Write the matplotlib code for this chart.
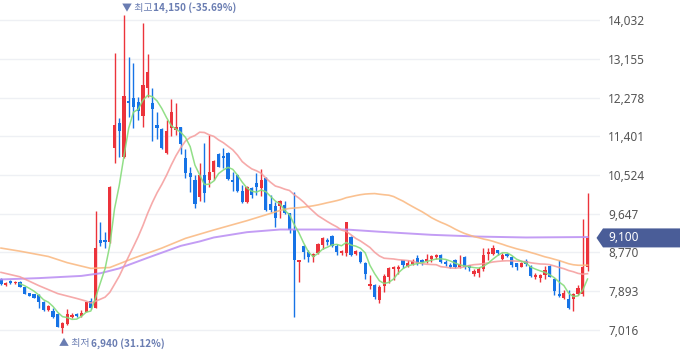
import numpy as np
import pandas as pd
import matplotlib
matplotlib.use("Agg")
import matplotlib.pyplot as plt
from matplotlib.patches import Polygon
from matplotlib.transforms import IdentityTransform

# ---------------- data ----------------
opens = [8160, 8040, 8130, 8090, 8110, 7980, 7850, 7820, 7810, 7660,
         7470, 7450, 7370, 7050, 7150, 7300, 7370, 7330, 7430, 7680,
         7520, 9050, 9050, 9010, 11130, 11690, 10940, 12210, 12260, 12180,
         11860, 12490, 12150, 11660, 11570, 11030, 11580, 11540, 11600, 10900,
         10560, 10410, 10020, 10520, 10410, 10600, 11010, 10960, 11030, 10410,
         10520, 10170, 9920, 10220, 10340, 10220, 10450, 9870, 9820, 9820,
         9850, 9660, 9270, 8560, 8920, 8790, 8670, 8760, 8950, 9050,
         9140, 8920, 8750, 8760, 9110, 8740, 8790, 8540, 8010, 8030,
         7690, 8010, 8220, 8390, 8390, 8590, 8460, 8510, 8640, 8600,
         8580, 8620, 8660, 8710, 8560, 8490, 8600, 8440, 8660, 8490,
         8280, 8310, 8390, 8740, 8740, 8830, 8620, 8740, 8670, 8530,
         8450, 8580, 8460, 8220, 8190, 8270, 8460, 8160, 7840, 7730,
         7720, 7710, 7830, 7830, 8440]
highs = [8200, 8110, 8150, 8130, 8120, 8000, 7860, 7830, 7820, 7670,
         7580, 7510, 7390, 7200, 7480, 7390, 7390, 7470, 7650, 7730,
         9700, 9450, 9240, 10270, 13290, 11810, 14150, 13200, 13050, 12280,
         13960, 13260, 12490, 11960, 11580, 11770, 12240, 12150, 11620, 11110,
         10710, 10520, 10800, 11240, 11430, 10860, 11030, 11130, 11050, 10600,
         10550, 10290, 10270, 10260, 10560, 10650, 10470, 10070, 9920, 9960,
         9940, 9670, 10150, 8610, 8940, 8830, 8760, 8990, 9130, 9090,
         9160, 8960, 8830, 9470, 9140, 8830, 8810, 8560, 8250, 8060,
         8030, 8280, 8440, 8470, 8490, 8600, 8600, 8620, 8710, 8620,
         8740, 8710, 8740, 8740, 8600, 8540, 8620, 8710, 8680, 8490,
         8390, 8440, 8870, 8870, 8940, 8830, 8760, 8760, 8690, 8540,
         8560, 8620, 8490, 8300, 8280, 8460, 8490, 8190, 8600, 7920,
         7920, 7850, 8030, 9520, 10110]
lows = [8030, 8010, 8060, 8050, 7980, 7820, 7780, 7730, 7510, 7450,
        7450, 7280, 7080, 6940, 7140, 7280, 7310, 7310, 7420, 7490,
        7510, 8920, 8870, 8980, 10800, 10940, 10900, 11840, 11580, 11760,
        11600, 12280, 11300, 11350, 11110, 11010, 11410, 11430, 11010, 10450,
        10140, 9770, 9940, 9920, 10260, 10410, 10700, 10690, 10410, 10170,
        10150, 9880, 9900, 10000, 10070, 10050, 9720, 9690, 9340, 9540,
        9640, 9220, 7300, 8110, 8620, 8550, 8550, 8740, 8840, 8940,
        8900, 8710, 8710, 8690, 8690, 8710, 8530, 8170, 7940, 7720,
        7620, 7880, 8090, 8150, 8280, 8410, 8450, 8490, 8490, 8490,
        8530, 8560, 8620, 8540, 8460, 8410, 8410, 8410, 8390, 8340,
        8240, 8220, 8360, 8600, 8710, 8710, 8600, 8660, 8440, 8370,
        8440, 8460, 8210, 8170, 8110, 8170, 8210, 7800, 7770, 7720,
        7500, 7450, 7800, 7780, 8340]
closes = [8060, 8090, 8070, 8100, 8000, 7830, 7790, 7750, 7660, 7470,
          7560, 7300, 7090, 7170, 7370, 7350, 7330, 7400, 7640, 7510,
          8870, 8980, 9010, 10260, 11660, 11530, 12310, 12160, 12070, 11980,
          12560, 12860, 12020, 11580, 11130, 11520, 11960, 11620, 11220, 10560,
          10470, 9870, 10520, 10120, 10600, 10830, 10710, 10920, 10430, 10370,
          10170, 9920, 10260, 10070, 10260, 10410, 9730, 9730, 9540, 9940,
          9660, 9270, 8590, 8600, 8790, 8660, 8730, 8960, 9090, 9010,
          8920, 8790, 8800, 9470, 8710, 8800, 8550, 8280, 8060, 7760,
          8000, 8240, 8410, 8440, 8450, 8490, 8530, 8580, 8540, 8560,
          8620, 8680, 8710, 8560, 8500, 8440, 8440, 8510, 8440, 8410,
          8340, 8390, 8710, 8790, 8870, 8750, 8710, 8690, 8490, 8450,
          8530, 8500, 8230, 8260, 8250, 8370, 8220, 7890, 7780, 7850,
          7510, 7840, 7960, 8440, 9100]

# moving-average values before enough in-window data exists
ma20_head_idx = [0, 4, 8, 12, 16, 18]
ma20_head_val = [8320, 8220, 8020, 7840, 7730, 7670]
ma60_head_idx = [0, 4, 10, 14, 19, 23, 28, 34, 39, 45, 52]
ma60_head_val = [8870, 8800, 8680, 8540, 8410, 8430, 8640, 8870, 9090, 9280, 9490]
ma120_idx = [0, 8, 17, 21, 25, 31, 38, 42, 45, 52, 59, 66, 73, 80, 91, 101, 111, 124]
ma120_val = [8160, 8190, 8240, 8300, 8410, 8650, 8920, 9020, 9110, 9230,
             9290, 9290, 9290, 9240, 9170, 9130, 9110, 9120]

y_ticks = [7016, 7893, 8770, 9647, 10524, 11401, 12278, 13155, 14032]

# ---------------- styling ----------------
UP = "#ec333b"
DOWN = "#1673e6"
FONT = ["Noto Sans CJK KR", "DejaVu Sans"]

fig = plt.figure(figsize=(6.8, 3.58), dpi=100)
ax = fig.add_axes([0, 0, 600 / 680, 1])
ax.set_xlim(-0.21, 126.64)
ax.set_ylim(6382, 14485)

n = len(closes)
x = np.arange(n)
o = np.array(opens, float)
h = np.array(highs, float)
l = np.array(lows, float)
c = np.array(closes, float)
up = c >= o
colors = np.where(up, UP, DOWN)

ax.vlines(x, l, h, colors=colors, lw=1.0, zorder=2)
bottom = np.minimum(o, c)
height = np.maximum(np.abs(c - o), 22)
ax.bar(x, height, bottom=bottom, width=0.68, color=colors, lw=0, zorder=2)

cs = pd.Series(c)
ma5 = cs.rolling(5).mean()
ma20 = cs.rolling(20).mean()
ma60 = cs.rolling(60).mean()

ax.plot(ma120_idx, ma120_val, color="#b98cf3", lw=1.4, alpha=0.85, zorder=3)
ax.plot(ma60_head_idx + list(x[59:]), ma60_head_val + list(ma60[59:]),
        color="#fab77e", lw=1.2, alpha=0.85, zorder=3)
ax.plot(ma20_head_idx + list(x[19:]), ma20_head_val + list(ma20[19:]),
        color="#f59b9b", lw=1.2, alpha=0.85, zorder=3)
ax.plot(x[4:], ma5[4:], color="#86dc7b", lw=1.1, alpha=0.9, zorder=3)

# axes
ax.set_yticks(y_ticks)
ax.set_yticklabels([f"{v:,}" for v in y_ticks])
ax.yaxis.tick_right()
ax.tick_params(axis="y", length=0, pad=6, labelsize=8.5, labelcolor="#555555")
for lab in ax.get_yticklabels():
    lab.set_family(["Noto Sans", "DejaVu Sans"])
ax.set_xticks([])
for s in ax.spines.values():
    s.set_visible(False)
ax.grid(axis="y", color="#eef0f4", lw=1.0)
ax.set_axisbelow(True)

# high / low annotations
last = closes[-1]
imax = int(np.argmax(h)); vmax = highs[imax]
imin = int(np.argmin(l)); vmin = lows[imin]
ACol = "#6a7db2"
AFS = 7.2
t1 = ax.annotate("▼ 최고", xy=(imax, vmax), xytext=(-2, 7), textcoords="offset pixels",
                 ha="left", va="center", fontsize=AFS, color=ACol, family=FONT)
ax.annotate(f"{vmax:,} ({(last - vmax) / vmax * 100:.2f}%)", xy=(1, 0.5), xycoords=t1,
            xytext=(1, 0), textcoords="offset pixels", ha="left", va="center",
            fontsize=AFS, color=ACol, fontweight="bold", family=FONT)
t2 = ax.annotate("▲ 최저", xy=(imin, vmin), xytext=(-3, -10), textcoords="offset pixels",
                 ha="left", va="center", fontsize=AFS, color=ACol, family=FONT)
ax.annotate(f"{vmin:,} ({(last - vmin) / vmin * 100:.2f}%)", xy=(1, 0.5), xycoords=t2,
            xytext=(1, 0), textcoords="offset pixels", ha="left", va="center",
            fontsize=AFS, color=ACol, fontweight="bold", family=FONT)

# current price tag
yd = ax.transData.transform((0, last))[1]
tag = Polygon([(596.5, yd), (603, yd + 9.5), (680, yd + 9.5), (680, yd - 9.5), (603, yd - 9.5)],
              closed=True, facecolor="#4a5d98", edgecolor="none",
              transform=IdentityTransform(), zorder=10)
fig.patches.append(tag)
fig.text(608, yd, f"{last:,}", transform=IdentityTransform(), color="white",
         fontsize=8.5, fontweight="bold", va="center", ha="left",
         family=["Noto Sans", "DejaVu Sans"], zorder=11)

fig.savefig("out.png", dpi=100)
